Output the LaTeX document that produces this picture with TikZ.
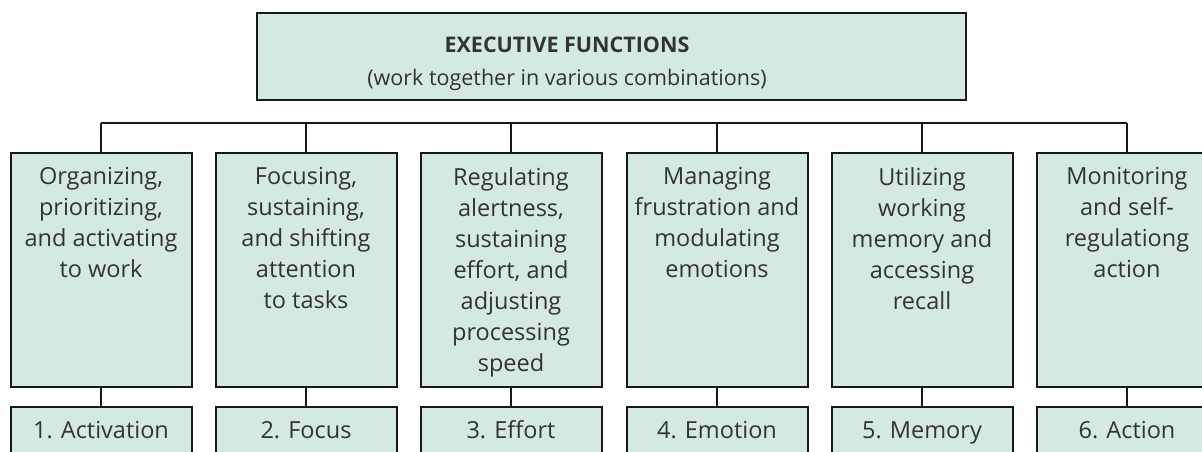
\documentclass[tikz,border=0pt]{standalone}
\usepackage{fontspec}
\setmainfont{Open Sans}
\usetikzlibrary{positioning}

\definecolor{boxfill}{RGB}{212,233,227}
\definecolor{textgray}{RGB}{51,51,51}

\tikzset{
    efbox/.style={draw=black!90, line width=2pt, fill=boxfill, inner sep=0pt, outer sep=0pt},
    colbox/.style={efbox, minimum width=181pt, minimum height=234pt},
    namebox/.style={efbox, minimum width=181pt, minimum height=50pt, text=textgray,
        text height=18pt, text depth=5pt, font=\fontsize{23.5}{31}\selectfont},
    desctext/.style={align=center, text=textgray, inner sep=0pt, font=\fontsize{23.5}{31}\selectfont},
    link/.style={draw=black!90, line width=2pt},
}

\begin{document}
\begin{tikzpicture}[x=1pt, y=-1pt]
    \useasboundingbox (0,0) rectangle (1202,451);
    \clip (0,0) rectangle (1202,451);

    % Draw top box
    \node[efbox, minimum width=709pt, minimum height=87pt] (ef) at (611.5,56.5) {};
    \node[desctext, font=\fontsize{21.5}{33}\selectfont, anchor=north] (eftext) at (567,36.5)
        {\textbf{EXECUTIVE FUNCTIONS}\\(work together in various combinations)};

    % Bus line
    \coordinate (bus) at (0,123);

    % Draw columns
    \foreach \i/\x/\desc/\name in {
        1/101/{Organizing,\\prioritizing,\\and activating\\to work}/{1. Activation},
        2/306/{Focusing,\\sustaining,\\and shifting\\attention\\to tasks}/{2. Focus},
        3/511/{Regulating\\alertness,\\sustaining\\effort, and\\adjusting\\processing\\speed}/{3. Effort},
        4/717/{Managing\\frustration and\\modulating\\emotions}/{4. Emotion},
        5/922/{Utilizing\\working\\memory and\\accessing\\recall}/{5. Memory},
        6/1127/{Monitoring\\and self-\\regulationg\\action}/{6. Action}}
    {
        \node[colbox] (col\i) at (\x,270) {};
        \node[desctext, anchor=north] (desc\i) at ([yshift=-14pt]col\i.north) {\desc};
        \node[namebox, below=20pt of col\i] (name\i) {\name};
        \draw[link] (col\i.south) -- (name\i.north);
        \draw[link] (col\i.north) -- (col\i.north |- bus);
    }
    \draw[link] (col1.north |- bus) -- (col6.north |- bus);
\end{tikzpicture}
\end{document}
